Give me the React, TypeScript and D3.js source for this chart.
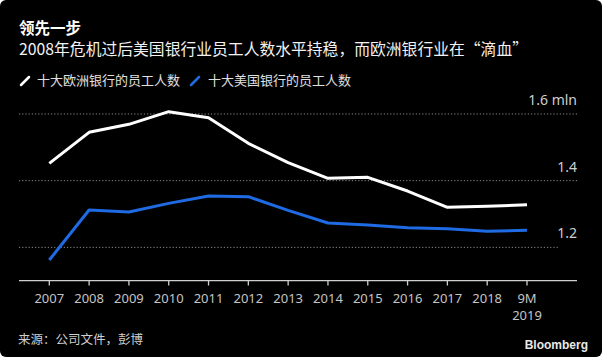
import React from "react";
import * as d3 from "d3";

const categories = ["2007","2008","2009","2010","2011","2012","2013","2014","2015","2016","2017","2018","9M 2019"];
const europeValues = [1.452,1.545,1.569,1.607,1.589,1.512,1.454,1.407,1.410,1.369,1.320,1.323,1.328];
const usValues = [1.162,1.312,1.306,1.332,1.354,1.352,1.311,1.273,1.267,1.259,1.256,1.248,1.251];
const yTicks = [1.2, 1.4, 1.6];
const yTickLabels = ["1.2", "1.4", "1.6 mln"];
const seriesNames = ["十大欧洲银行的员工人数", "十大美国银行的员工人数"];
const title = "领先一步";
const subtitle = "2008年危机过后美国银行业员工人数水平持稳，而欧洲银行业在“滴血”";
const source = "来源：公司文件，彭博";

const W = 606, H = 362;
const CJK = "'Noto Sans CJK SC', 'Noto Sans', sans-serif";
const SANS = "'Noto Sans', 'Open Sans', sans-serif";
const WHITE = "#ffffff";
const BLUE = "#1f6be3";

export default function App() {
  const x = d3.scalePoint<string>().domain(categories).range([49.3, 527]);
  const y = d3.scaleLinear().domain([1.1, 1.6]).range([280.7, 114]);
  const line = d3.line<number>().x((_, i) => x(categories[i]) as number).y((d) => y(d));

  return (
    <svg width={W} height={H} style={{ position: "absolute", left: 0, top: 0, display: "block" }}>
      <rect x={0} y={0} width={W} height={H} fill="#fff" />
      <rect x={0} y={0} width={602} height={357} rx={6} fill="#000" />
      <text x={19} y={33.5} fill="#fff" fontFamily={CJK} fontWeight={700} fontSize={15.5}>{title}</text>
      <text x={19} y={55} fill="#f2f2f2" fontFamily={CJK} fontSize={15.8}>{subtitle}</text>
      {/* legend */}
      <g>
        <line x1={21} y1={85} x2={29} y2={77} stroke={WHITE} strokeWidth={2.5} strokeLinecap="round" />
        <text x={37} y={85} fill="#e0e0e0" fontFamily={CJK} fontSize={13}>{seriesNames[0]}</text>
        <line x1={191} y1={85} x2={199} y2={77} stroke={BLUE} strokeWidth={2.5} strokeLinecap="round" />
        <text x={208} y={85} fill="#e0e0e0" fontFamily={CJK} fontSize={13}>{seriesNames[1]}</text>
      </g>
      {/* grid */}
      {yTicks.map((t, i) => (
        <g key={t}>
          <line x1={19} x2={t === 1.2 ? 558 : 577} y1={y(t)} y2={y(t)} stroke="#8a8a8a" strokeWidth={1} strokeDasharray="1.2,2" />
          <text x={577} y={y(t) - 9} textAnchor="end" fill="#cfcfcf" fontFamily={SANS} fontSize={14}>{yTickLabels[i]}</text>
        </g>
      ))}
      {/* axis */}
      <line x1={19} x2={577} y1={280.7} y2={280.7} stroke="#cfcfcf" strokeWidth={1.3} />
      {categories.map((c) => {
        const px = x(c) as number;
        const parts = c.split(" ");
        return (
          <g key={c}>
            <line x1={px} x2={px} y1={280.7} y2={285.5} stroke="#cfcfcf" strokeWidth={1.3} />
            {parts.map((p, j) => (
              <text key={j} x={px} y={303 + j * 17} textAnchor="middle" fill="#c4c4c4" fontFamily={SANS} fontSize={13}>{p}</text>
            ))}
          </g>
        );
      })}
      {/* lines */}
      <path d={line(europeValues) || ""} fill="none" stroke={WHITE} strokeWidth={3} strokeLinejoin="round" />
      <path d={line(usValues) || ""} fill="none" stroke={BLUE} strokeWidth={3} strokeLinejoin="round" />
      {/* footer */}
      <text x={18} y={344} fill="#cfcfcf" fontFamily={CJK} fontSize={12.5}>{source}</text>
      <text x={588} y={349} textAnchor="end" fill="#e8e8e8" fontFamily="'Liberation Sans', Arial, sans-serif" fontWeight={700} fontSize={12}>Bloomberg</text>
    </svg>
  );
}
